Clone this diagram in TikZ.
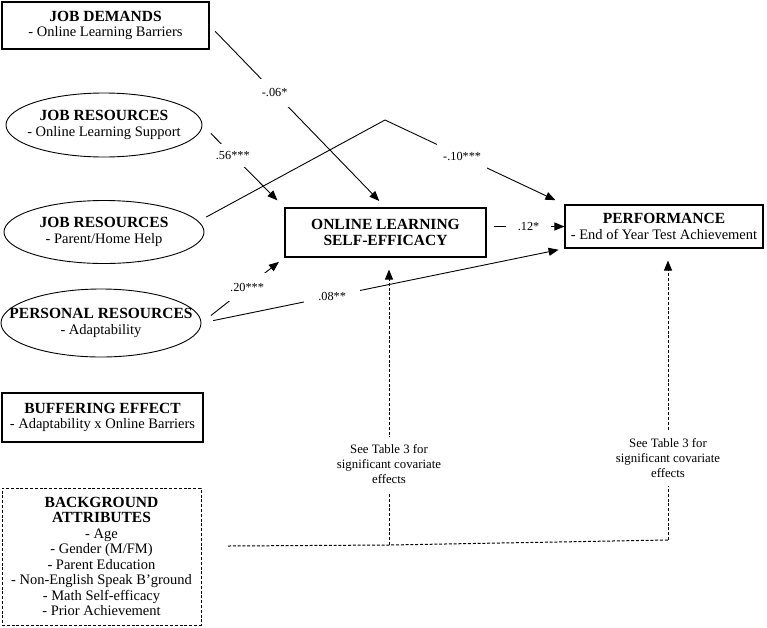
\documentclass[tikz,border=0pt]{standalone}
\usepackage{fontspec}
\setmainfont{Liberation Serif}
\usetikzlibrary{shapes.geometric,arrows.meta}

\newcommand{\headtxt}[1]{{\bfseries\fontsize{15.5}{17}\selectfont #1}}

\begin{document}
\begin{tikzpicture}[x=1pt,y=-1pt,
  box/.style={draw,line width=1.1pt,inner sep=0pt,align=center,font=\fontsize{14.5}{15.5}\selectfont},
  oval/.style={draw,ellipse,line width=0.9pt,inner xsep=-30pt,inner ysep=0pt,align=center,font=\fontsize{14.5}{15.5}\selectfont},
  arr/.style={line width=0.9pt,-{Triangle[length=10pt,width=8pt]}},
  dsh/.style={line width=1pt,dash pattern=on 3pt off 1.8pt},
  lab/.style={fill=white,font=\fontsize{12.3}{14}\selectfont}]
\useasboundingbox (0,0) rectangle (767,627);
\node[box,minimum width=207pt,minimum height=47pt] (dem) at (105.5,25.5) {\headtxt{JOB DEMANDS}\\- Online Learning Barriers};
\node[oval,minimum width=196pt,minimum height=64pt] (sup) at (104,125) {\headtxt{JOB RESOURCES}\\- Online Learning Support};
\node[oval,minimum width=200pt,minimum height=63pt] (home) at (104,232) {\headtxt{JOB RESOURCES}\\- Parent/Home Help};
\node[oval,minimum width=200pt,minimum height=68pt] (pers) at (101,323) {\headtxt{PERSONAL RESOURCES}\\- Adaptability};
\node[box,minimum width=201pt,minimum height=49pt] (olse) at (385.5,232.5) {\headtxt{ONLINE LEARNING}\\\headtxt{SELF-EFFICACY}};
\node[box,minimum width=198pt,minimum height=43pt] (perf) at (664,226.5) {\headtxt{PERFORMANCE}\\- End of Year Test Achievement};
\node[box,minimum width=201pt,minimum height=49pt] (buff) at (102.5,417.5) {\headtxt{BUFFERING EFFECT}\\- Adaptability x Online Barriers};
\node[box,dsh,minimum width=199pt,minimum height=137pt] (bg) at (101.5,556.5) {\headtxt{BACKGROUND}\\\headtxt{ATTRIBUTES}\\- Age\\- Gender (M/FM)\\- Parent Education\\- Non-English Speak B'ground\\- Math Self-efficacy\\- Prior Achievement};
\coordinate (peak) at (385,120);
\coordinate (bgend) at (228,546);
\coordinate (c1) at (389,545);
\coordinate (c2) at (668,540);
\draw[arr,shorten <=8pt,shorten >=9pt] (dem.east) -- node[lab,pos=.37,inner sep=10pt]{-.06*} (olse.north);
\draw[arr,shorten <=12pt,shorten >=10pt] (sup.east) -- node[lab,pos=.37,inner sep=7pt]{.56***} (olse.north west);
\draw[arr,shorten <=2pt,shorten >=10pt] ([yshift=14pt]home.east) -- (peak) -- node[lab,pos=.43,inner xsep=6pt,inner ysep=9pt]{-.10***} (perf.north west);
\draw[arr,shorten <=12pt,shorten >=7pt] (pers.east) -- node[lab,pos=.55,inner sep=10pt]{.20***} (olse.south west);
\draw[arr,shorten <=12pt,shorten >=6pt] (pers.east) -- node[lab,pos=.36,inner xsep=14pt,inner ysep=3pt]{.08**} (perf.south west);
\draw[arr,shorten <=7pt] (olse.east |- perf) -- node[lab,pos=.54,inner xsep=12pt]{.12*} (perf.west);
\draw[dsh] (bgend) -- (c1) -- (c2);
\foreach \c/\n in {c1/olse,c2/perf}
{
\draw[arr,dsh,shorten >=12pt] (\c) -- node[lab,pos=.28,inner ysep=8pt,align=center,font=\fontsize{12.8}{15}\selectfont]{See Table 3 for\\significant covariate\\effects} (\c |- \n.south);
}
\end{tikzpicture}
\end{document}
